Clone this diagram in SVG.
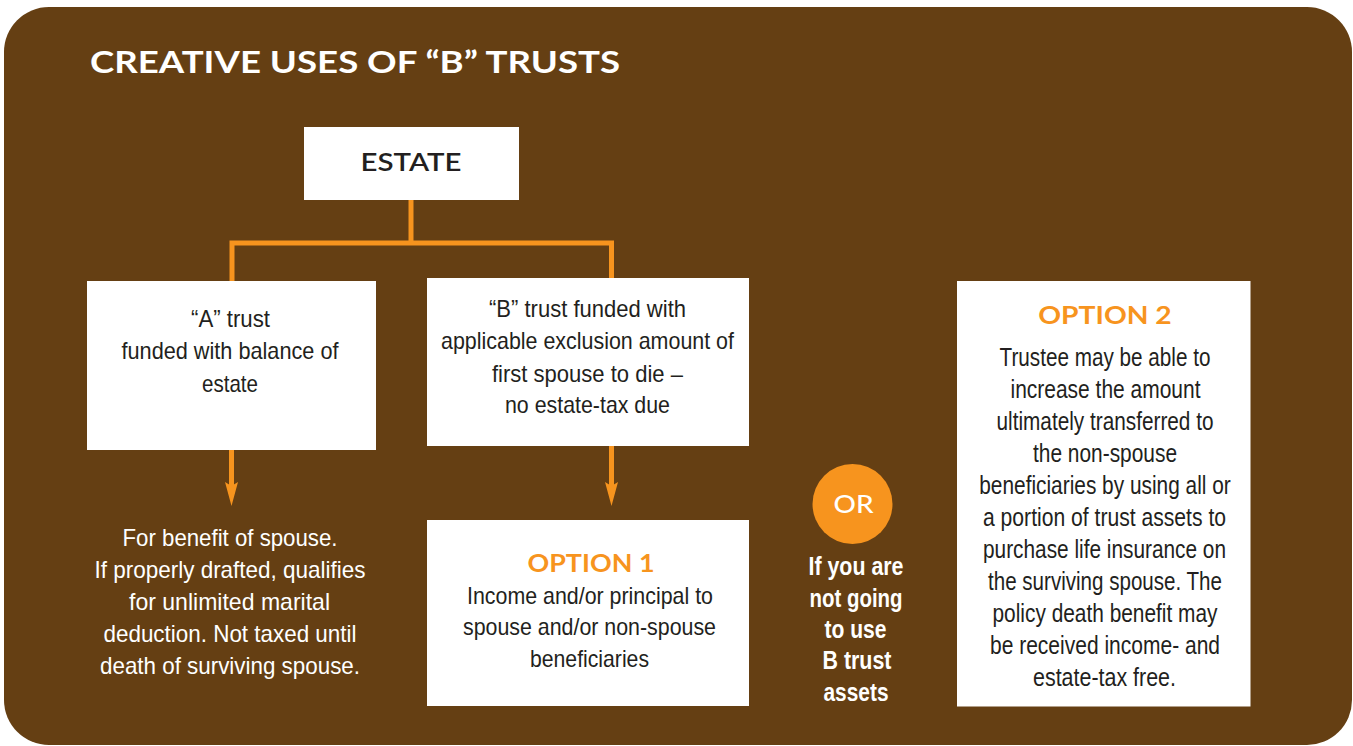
<svg xmlns="http://www.w3.org/2000/svg" width="1353" height="746" viewBox="0 0 1353 746">
  <defs>
    <style>
      .panel { fill: #653F13; }
      .box { fill: #FFFFFF; }
      .wire { fill: none; stroke: #F7941E; stroke-width: 5; stroke-linejoin: miter; stroke-linecap: butt; }
      .head { font-family: Lato, "Liberation Sans", Arial, sans-serif; font-weight: 700; }
      .title { font-size: 31px; fill: #FFFFFF; }
      .opt { font-size: 25.5px; fill: #F7941E; text-anchor: middle; }
      .estate { font-family: Lato, "Liberation Sans", Arial, sans-serif; font-weight: 600; font-size: 25.5px; fill: #231F20; text-anchor: middle; }
      .or { font-family: Lato, "Liberation Sans", Arial, sans-serif; font-weight: 500; font-size: 25px; fill: #FFFFFF; text-anchor: middle; }
      .body { font-family: "Liberation Sans Narrow", "Liberation Sans", Arial, sans-serif; font-size: 24px; fill: #231F20; text-anchor: middle; }
      .big { font-size: 26px; }
      .white { fill: #FFFFFF; }
      .bold { font-weight: 700; font-size: 25px; }
    </style>
    <marker id="arrowhead" markerUnits="userSpaceOnUse" markerWidth="24" markerHeight="13" viewBox="0 0 24 13" refX="11" refY="6.5" orient="auto">
      <path d="M0,0 L24,6.5 L0,13 L4,6.5 Z" fill="#F7941E"/>
    </marker>
  </defs>

  <!-- background panel -->
  <rect class="panel" x="4" y="7" width="1348" height="738" rx="45" ry="45"/>

  <text class="head title" x="90" y="73" textLength="530" lengthAdjust="spacingAndGlyphs">CREATIVE USES OF “B” TRUSTS</text>

  <!-- connectors -->
  <g id="connectors">
    <path class="wire" d="M411,200 V243"/>
    <path class="wire" d="M232,282 V243 H611.5 V279"/>
    <path class="wire" d="M231.5,449 V493" marker-end="url(#arrowhead)"/>
    <path class="wire" d="M611.5,446 V493" marker-end="url(#arrowhead)"/>
  </g>

  <g id="estate">
    <rect class="box" x="304" y="127" width="215" height="73"/>
    <text class="estate" x="411" y="171" textLength="101" lengthAdjust="spacingAndGlyphs">ESTATE</text>
  </g>

  <g id="trust-a">
    <rect class="box" x="87" y="281" width="289" height="169"/>
    <text class="body" x="230.5" y="327" textLength="79" lengthAdjust="spacingAndGlyphs">“A” trust</text>
    <text class="body" x="230" y="359" textLength="217" lengthAdjust="spacingAndGlyphs">funded with balance of</text>
    <text class="body" x="230" y="391.5" textLength="56" lengthAdjust="spacingAndGlyphs">estate</text>
  </g>

  <g id="trust-b">
    <rect class="box" x="427" y="278" width="322" height="168"/>
    <text class="body" x="587.5" y="317" textLength="197" lengthAdjust="spacingAndGlyphs">“B” trust funded with</text>
    <text class="body" x="587.5" y="349" textLength="293" lengthAdjust="spacingAndGlyphs">applicable exclusion amount of</text>
    <text class="body" x="587.5" y="381.5" textLength="191" lengthAdjust="spacingAndGlyphs">first spouse to die –</text>
    <text class="body" x="587.5" y="413" textLength="165" lengthAdjust="spacingAndGlyphs">no estate-tax due</text>
  </g>

  <g id="spouse-benefit">
    <text class="body white" x="230" y="545.5" textLength="215" lengthAdjust="spacingAndGlyphs">For benefit of spouse.</text>
    <text class="body white" x="230" y="577.5" textLength="271" lengthAdjust="spacingAndGlyphs">If properly drafted, qualifies</text>
    <text class="body white" x="229.5" y="609.5" textLength="201" lengthAdjust="spacingAndGlyphs">for unlimited marital</text>
    <text class="body white" x="230" y="641.5" textLength="253" lengthAdjust="spacingAndGlyphs">deduction. Not taxed until</text>
    <text class="body white" x="230" y="673.5" textLength="260" lengthAdjust="spacingAndGlyphs">death of surviving spouse.</text>
  </g>

  <g id="option-1">
    <rect class="box" x="427" y="520" width="322" height="186"/>
    <text class="head opt" x="591" y="571.5" textLength="127" lengthAdjust="spacingAndGlyphs">OPTION 1</text>
    <text class="body" x="590" y="603.5" textLength="246" lengthAdjust="spacingAndGlyphs">Income and/or principal to</text>
    <text class="body" x="589.5" y="635" textLength="253" lengthAdjust="spacingAndGlyphs">spouse and/or non-spouse</text>
    <text class="body" x="589.5" y="666.5" textLength="119" lengthAdjust="spacingAndGlyphs">beneficiaries</text>
  </g>

  <g id="or-badge">
    <circle cx="852.5" cy="504" r="40" fill="#F7941E"/>
    <text class="or" x="853.5" y="513" textLength="40" lengthAdjust="spacingAndGlyphs">OR</text>
  </g>

  <g id="or-note">
    <text class="body white bold" x="856" y="575" textLength="95" lengthAdjust="spacingAndGlyphs">If you are</text>
    <text class="body white bold" x="856" y="606.5" textLength="93" lengthAdjust="spacingAndGlyphs">not going</text>
    <text class="body white bold" x="855.5" y="637.5" textLength="62" lengthAdjust="spacingAndGlyphs">to use</text>
    <text class="body white bold" x="857" y="669" textLength="69" lengthAdjust="spacingAndGlyphs">B trust</text>
    <text class="body white bold" x="856" y="700.5" textLength="65" lengthAdjust="spacingAndGlyphs">assets</text>
  </g>

  <g id="option-2">
    <rect class="box" x="957" y="281" width="293.5" height="425.5"/>
    <text class="head opt" x="1105" y="324" font-size="26" textLength="133.5" lengthAdjust="spacingAndGlyphs">OPTION 2</text>
    <text class="body big" x="1105" y="365.5" textLength="211" lengthAdjust="spacingAndGlyphs">Trustee may be able to</text>
    <text class="body big" x="1105.5" y="397.5" textLength="190" lengthAdjust="spacingAndGlyphs">increase the amount</text>
    <text class="body big" x="1105" y="429.5" textLength="217" lengthAdjust="spacingAndGlyphs">ultimately transferred to</text>
    <text class="body big" x="1105" y="461.5" textLength="144" lengthAdjust="spacingAndGlyphs">the non-spouse</text>
    <text class="body big" x="1105" y="493.5" textLength="251.5" lengthAdjust="spacingAndGlyphs">beneficiaries by using all or</text>
    <text class="body big" x="1104.5" y="525.5" textLength="243" lengthAdjust="spacingAndGlyphs">a portion of trust assets to</text>
    <text class="body big" x="1104.5" y="557.5" textLength="243" lengthAdjust="spacingAndGlyphs">purchase life insurance on</text>
    <text class="body big" x="1105" y="589.5" textLength="234" lengthAdjust="spacingAndGlyphs">the surviving spouse. The</text>
    <text class="body big" x="1105" y="621.5" textLength="225" lengthAdjust="spacingAndGlyphs">policy death benefit may</text>
    <text class="body big" x="1105" y="653.5" textLength="230" lengthAdjust="spacingAndGlyphs">be received income- and</text>
    <text class="body big" x="1104.5" y="685.5" textLength="143" lengthAdjust="spacingAndGlyphs">estate-tax free.</text>
  </g>
</svg>
